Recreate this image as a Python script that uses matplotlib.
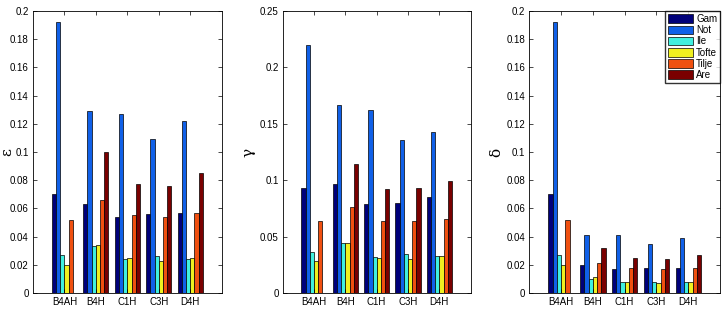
import matplotlib
matplotlib.use("Agg")
import matplotlib.pyplot as plt
import numpy as np

categories = ["B4AH", "B4H", "C1H", "C3H", "D4H"]
series = ["Gam", "Not", "Ile", "Tofte", "Tilje", "Are"]
colors = ["#00007a", "#1060e8", "#40f0e0", "#f0f020", "#f05010", "#7a0000"]

# rows: series, cols: categories
epsilon = [
    [0.070, 0.063, 0.054, 0.056, 0.057],
    [0.192, 0.129, 0.127, 0.109, 0.122],
    [0.027, 0.033, 0.024, 0.026, 0.024],
    [0.020, 0.034, 0.025, 0.023, 0.025],
    [0.052, 0.066, 0.055, 0.054, 0.057],
    [0.000, 0.100, 0.077, 0.076, 0.085],
]
gamma = [
    [0.093, 0.097, 0.079, 0.080, 0.085],
    [0.220, 0.167, 0.162, 0.136, 0.143],
    [0.036, 0.044, 0.032, 0.035, 0.033],
    [0.028, 0.044, 0.031, 0.030, 0.033],
    [0.064, 0.076, 0.064, 0.064, 0.066],
    [0.000, 0.114, 0.092, 0.093, 0.099],
]
delta = [
    [0.070, 0.020, 0.017, 0.018, 0.018],
    [0.192, 0.041, 0.041, 0.035, 0.039],
    [0.027, 0.010, 0.008, 0.008, 0.008],
    [0.020, 0.011, 0.008, 0.007, 0.008],
    [0.052, 0.021, 0.018, 0.017, 0.018],
    [0.000, 0.032, 0.025, 0.024, 0.027],
]

panels = [
    (epsilon, "ε", 0.2, np.arange(0, 0.201, 0.02), ["0", "0.02", "0.04", "0.06", "0.08", "0.1", "0.12", "0.14", "0.16", "0.18", "0.2"]),
    (gamma, "γ", 0.25, np.arange(0, 0.251, 0.05), ["0", "0.05", "0.1", "0.15", "0.2", "0.25"]),
    (delta, "δ", 0.2, np.arange(0, 0.201, 0.02), ["0", "0.02", "0.04", "0.06", "0.08", "0.1", "0.12", "0.14", "0.16", "0.18", "0.2"]),
]

plt.rcParams['font.family'] = ['Liberation Sans', 'DejaVu Sans']
fig = plt.figure(figsize=(7.23, 3.16), dpi=100)
positions = [
    [0.0456, 0.0728, 0.261, 0.892],
    [0.391, 0.0728, 0.260, 0.892],
    [0.732, 0.0728, 0.264, 0.892],
]
label_x = [-0.10, -0.145, -0.136]

x = np.arange(1, len(categories) + 1)
n = len(series)
w = 0.8 / n
for idx, (data, ylabel, ymax, yt, ytl) in enumerate(panels):
    ax = fig.add_axes(positions[idx])
    for i in range(n):
        vals = np.array(data[i])
        ax.bar(x + (i - (n - 1) / 2) * w, vals, width=w, color=colors[i],
               edgecolor="black", linewidth=0.5, label=series[i])
    ax.set_xlim(0, 6)
    ax.set_ylim(0, ymax)
    ax.set_xticks(x)
    ax.set_xticklabels(categories, fontsize=7)
    ax.set_yticks(yt)
    ax.set_yticklabels(ytl, fontsize=7)
    ax.tick_params(direction="in", top=True, right=True, length=3, width=0.5, pad=3)
    for s in ax.spines.values():
        s.set_linewidth(0.6)
    ax.set_ylabel(ylabel, fontsize=11, family="DejaVu Serif")
    ax.yaxis.set_label_coords(label_x[idx], 0.5)
    if idx == 2:
        ax.legend(loc="upper right", fontsize=7, frameon=True, fancybox=False,
                  edgecolor="black", borderpad=0.3, labelspacing=0.12,
                  handlelength=2.6, handleheight=1.0, handletextpad=0.3,
                  borderaxespad=0.0)

fig.savefig("out.png", dpi=100)
